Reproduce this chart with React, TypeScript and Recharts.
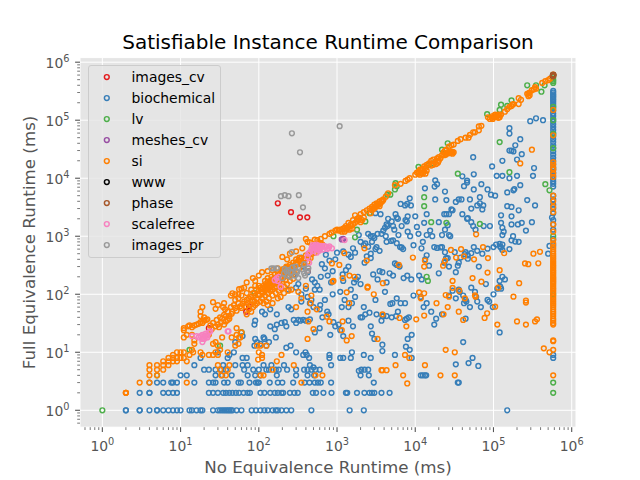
import React from "react";
import { ScatterChart, Scatter, XAxis, YAxis, CartesianGrid, Legend } from "recharts";

type Pt = [number, number];
const FONT = "'DejaVu Sans', sans-serif";
const title = "Satisfiable Instance Runtime Comparison";
const xTitle = "No Equivalence Runtime (ms)";
const yTitle = "Full Equivalence Runtime (ms)";

const xDomain = [0.518, 1135000];
const yDomain = [0.511, 1200000];
const majorTicks = [1, 10, 100, 1000, 10000, 100000, 1000000];
const xMinor = [0.6, 0.7, 0.8, 0.9, 2, 3, 4, 5, 6, 7, 8, 9, 20, 30, 40, 50, 60, 70, 80, 90, 200, 300, 400, 500, 600, 700, 800, 900, 2000, 3000, 4000, 5000, 6000, 7000, 8000, 9000, 20000, 30000, 40000, 50000, 60000, 70000, 80000, 90000, 200000, 300000, 400000, 500000, 600000, 700000, 800000, 900000];
const yMinor = xMinor;

const imagesCv: Pt[] = [[175, 3700], [258, 2600], [336, 2120], [417, 2120], [425, 250], [69, 50], [75, 62], [23, 26], [110, 110]];

const biochemicalRows: Pt[] = [
  [2, 1], [2, 1], [3, 1], [3, 1], [4, 1], [5, 1], [5, 1], [6, 1], [7, 1], [8, 1], [9, 1], [10, 1], [13, 1], [14, 1], [16, 1], [18, 1], [19, 1], [26, 1], [30, 1], [32, 1], [34, 1], [36, 1], [38, 1], [40, 1], [42, 1], [44, 1], [46, 1], [52, 1], [60, 1], [81, 1], [92, 1], [105, 1], [118, 1], [130, 1], [150, 1], [165, 1], [175, 1], [195, 1], [225, 1], [260, 1], [470, 1], [1450, 1], [2200, 1], [150000, 1],
  [3, 2], [4, 2], [4, 2], [6, 2], [7, 2], [8, 2], [9, 2], [23, 2], [26, 2], [30, 2], [35, 2], [38, 2], [42, 2], [46, 2], [51, 2], [56, 2], [64, 2], [72, 2], [77, 2], [105, 2], [118, 2], [140, 2], [160, 2], [175, 2], [195, 2], [205, 2], [250, 2], [285, 2], [315, 2], [490, 2], [540, 2], [670, 2], [850, 2], [1300, 2], [1350, 2], [1800, 2], [2240, 2], [2600, 2], [2800, 2], [3000, 2], [3700, 2], [4700, 2],
  [4, 3], [5, 3], [6, 3], [7.6, 3], [8, 3], [9, 3], [15, 3], [23, 3], [26, 3], [28, 3], [36, 3], [40, 3], [55, 3], [59, 3], [76, 3], [92, 3], [97, 3], [100, 3], [138, 3], [175, 3], [200, 3], [275, 3], [385, 3], [445, 3], [520, 3], [570, 3], [620, 3], [840, 3], [2950, 3], [35000, 3], [36000, 3],
  [10, 4], [12, 4], [28, 4], [34, 4], [45, 4], [72, 4], [90, 4], [105, 4], [170, 4], [300, 4], [420, 4], [510, 4], [11800, 4], [12500, 4], [13300, 4], [13800, 4], [1900, 4.8], [2000, 4], [2050, 5],
  [15, 6], [20, 5], [23, 5], [28, 5], [33, 5], [35, 6], [38, 5], [50, 6], [62, 6], [65, 5], [72, 6], [85, 5], [100, 5], [115, 6], [125, 5], [135, 5], [145, 6], [165, 5], [180, 5], [210, 6], [230, 5], [300, 5], [380, 5], [420, 5], [470, 5], [530, 5], [600, 5], [840, 6], [450, 6], [1100, 8], [1500, 8], [800, 8], [33000, 6.2], [48000, 6.5], [54000, 8], [64000, 5.8], [1550, 10], [1200, 8], [2200, 9], [2700, 8], [3800, 10.5], [5500, 9], [7600, 12.5], [8500, 11], [2250, 5], [2500, 5], [2550, 4], [9000, 8],
  [18, 8], [40, 8], [48, 10], [30, 10], [42, 9], [62, 8], [70, 8], [125, 13], [118, 17], [135, 15], [165, 18], [225, 12], [255, 13], [300, 10], [370, 9], [395, 10], [410, 9], [440, 8], [500, 5.5], [800, 9],
  [50, 15], [60, 22], [62, 19], [88, 13], [90, 17], [95, 15], [105, 14], [115, 18], [160, 25], [170, 30], [140, 28], [195, 32], [215, 33], [225, 28], [280, 36], [320, 36], [340, 35], [370, 36], [400, 35], [450, 37], [520, 22], [600, 26], [820, 20], [1100, 24], [1200, 19], [1400, 35], [1600, 28], [2100, 40], [2700, 28], [2800, 21], [3000, 17], [3200, 45], [3800, 13.5], [4300, 42], [5000, 40], [5700, 42], [6000, 50], [7400, 36], [9000, 20], [7800, 38],
  [41000, 15], [44000, 38], [42000, 70], [44000, 80], [45000, 75], [120000, 22], [84000, 80], [100000, 100], [8000, 17], [80000, 150], [58000, 110],
  [110, 50], [120, 45], [90, 35], [88, 30], [140, 55], [170, 45], [240, 60], [260, 55], [300, 32], [350, 75], [420, 90], [470, 80], [520, 120], [610, 65], [700, 80], [750, 50], [880, 100], [1150, 60], [1250, 80], [1400, 60], [1550, 70], [1700, 90], [2000, 40], [2200, 60], [2300, 45], [2600, 48], [3100, 80], [3800, 42], [3900, 42], [3700, 35], [4800, 68], [5100, 70], [5800, 85], [6500, 70], [7400, 70], [8300, 40], [9500, 95],
  [11700, 90], [12800, 60], [14000, 70], [16000, 50], [17500, 30], [18500, 38], [22000, 45], [27000, 95], [30000, 115], [33000, 85], [37000, 110], [41000, 95], [50000, 60], [52000, 130], [60000, 90], [62000, 75], [69000, 60], [88000, 75], [98000, 60], [112000, 125], [122000, 135], [125000, 125], [130000, 200], [140000, 180], [120000, 170],
  [1100, 110], [1180, 220], [1200, 170], [1300, 260], [1400, 300], [1500, 120], [1650, 160], [1750, 180], [1850, 200], [2000, 150], [2250, 350], [2400, 450], [2700, 420], [2900, 220], [3300, 180], [3500, 250], [3800, 240], [4100, 110], [4300, 160], [4700, 230], [5200, 210], [5500, 340], [5800, 320], [6300, 300], [7100, 190], [7900, 210], [8900, 180], [11200, 210], [12100, 180], [13400, 400], [14000, 470], [15000, 310], [20000, 230], [23500, 350], [27000, 300], [33000, 240], [35000, 310], [36000, 120], [47000, 410], [52000, 510], [56000, 650], [65000, 300], [72000, 500], [100000, 650], [130000, 580], [170000, 850], [210000, 800], [130000, 720],
  [350, 430], [370, 300], [420, 240], [480, 180], [520, 160], [560, 140], [600, 120], [620, 200], [640, 330], [700, 280], [720, 480], [760, 210], [800, 380], [840, 160], [880, 250], [950, 400], [1000, 520], [320, 150], [280, 220], [350, 100], [400, 125], [300, 130], [240, 120], [450, 70], [500, 60], [600, 55], [650, 40], [780, 45], [900, 33], [950, 28], [1050, 30],
  [1200, 550], [1400, 480], [1500, 440], [1600, 620], [1700, 520], [2200, 700], [2500, 660], [2700, 500], [2800, 800], [3000, 930], [3200, 650], [3300, 1100], [3500, 560], [4200, 1000], [4300, 800], [4900, 830], [5200, 850], [5400, 1300], [5800, 760], [6100, 1050], [6400, 650], [6700, 640], [7000, 600], [7800, 1800], [8000, 1200], [8600, 1000], [9500, 700], [10500, 1450], [11000, 1100], [12000, 620], [12500, 800], [14000, 1050], [16500, 1000], [17500, 650], [19000, 630], [21000, 640], [22000, 650], [24000, 530], [24800, 420], [26000, 420], [32000, 530], [36000, 350], [38000, 430], [43000, 490], [44000, 530], [47000, 470], [62000, 560], [84000, 610], [108000, 720], [120000, 740], [122000, 660], [125000, 640], [160000, 600], [190000, 810],
  [13300, 6700], [18000, 9200], [19000, 7900], [17700, 7200], [8500, 4500], [6500, 3600], [7400, 3400], [7900, 3600], [8800, 3400], [24000, 5900], [18000, 4300], [25000, 4200], [33000, 3900], [36000, 4300], [39000, 4300], [40000, 10800], [46000, 9100], [46000, 8400], [42000, 7300], [56000, 11700], [56000, 6400], [70000, 7900], [84000, 6400], [93000, 5200], [105000, 5000], [50000, 4300], [67000, 4700], [62000, 3400], [74000, 3400], [52000, 3000], [72000, 2900], [67000, 3700],
  [96000, 16000], [55000, 23000], [130000, 20000], [110000, 11000], [130000, 11000], [160000, 10000], [200000, 11000], [320000, 11000], [330000, 15000], [220000, 7600], [185000, 6500], [180000, 6200], [150000, 5700], [270000, 4200], [340000, 3400], [150000, 3300], [170000, 3200], [210000, 2800], [125000, 2300], [170000, 2200], [160000, 30000], [180000, 29000], [170000, 30000], [190000, 37000], [230000, 26000], [200000, 21000], [220000, 47000], [160000, 73000], [160000, 59000], [295000, 96000], [350000, 108000], [430000, 100000],
  [30000, 2800], [27000, 2400], [25000, 2400], [23500, 2400], [29000, 2900], [40000, 2400], [46000, 2000], [47000, 2050], [14000, 2400], [3600, 2400], [3100, 2500], [10000, 2200], [13000, 1700], [15500, 1250], [22000, 1050], [24000, 1300], [20000, 1750], [26000, 1550], [27000, 1050], [28000, 1000], [4500, 2000], [5000, 1800], [5200, 1500], [5600, 2400], [5800, 2100], [6000, 2000], [6700, 1500], [7500, 1900], [8000, 2200], [52000, 1750], [55000, 1500], [59000, 1300], [75000, 1500], [90000, 1500], [125000, 1700], [130000, 1400], [170000, 1600], [205000, 1600], [230000, 1700], [260000, 1250], [310000, 1750], [130000, 1050], [135000, 1200], [178000, 1000],
  [1900, 1050], [2000, 800], [2300, 750], [2500, 1100], [2700, 1000], [3900, 1250], [4100, 1400], [4300, 1600], [4400, 1500], [3700, 1100], [3100, 600], [2900, 1000],
];

const biochemicalColumn: Pt[] = [[580000, 320000], [580000, 300000], [580000, 280000], [580000, 265000], [580000, 250000], [580000, 235000], [580000, 220000], [580000, 205000], [580000, 190000], [580000, 175000], [580000, 160000], [580000, 145000], [580000, 130000], [580000, 118000], [580000, 105000], [580000, 95000], [580000, 85000], [580000, 76000], [580000, 68000], [580000, 60000], [580000, 53000], [580000, 47000], [580000, 42000], [580000, 37000], [580000, 33000], [580000, 29000], [580000, 25500], [580000, 22500], [580000, 20000], [580000, 17500], [580000, 15500], [580000, 14000], [580000, 12500], [580000, 11000], [580000, 9800], [580000, 8800], [580000, 8000], [580000, 7200], [580000, 5000], [580000, 4300], [580000, 3500], [580000, 3000], [580000, 2500], [560000, 2100], [580000, 1900], [580000, 1600], [580000, 1300], [580000, 900], [580000, 700], [520000, 680], [500000, 500], [580000, 8], [580000, 9]];

const lv: Pt[] = [[1, 1], [5, 4], [13, 11], [32, 13], [60, 22], [88, 105], [230, 290], [580000, 550000], [580000, 500000], [580000, 470000], [580000, 440000], [580000, 170000], [580000, 100000], [580000, 58000], [580000, 33000], [460000, 7900], [520000, 6200], [580000, 1000], [580000, 100], [580000, 3], [580000, 2], [14500, 170], [14000, 200], [270000, 400000], [350000, 400000], [450000, 400000], [410000, 310000], [125000, 185000], [170000, 220000], [120000, 150000], [150000, 177000], [83000, 127000], [26000, 40000], [22000, 31000], [11000, 15700], [15000, 17000], [17000, 18000], [5600, 8200], [5800, 7300], [5500, 6400], [4800, 5200], [4400, 5200], [2600, 2500], [2300, 1800], [1800, 1300], [1700, 960], [16000, 1750], [25000, 1700], [67000, 1630], [13000, 3300], [13000, 4700], [35000, 12000], [120000, 42000], [160000, 12700], [900, 1000]];

const meshesCv: Pt[] = [[1200, 900], [1150, 880], [600, 620]];

const siTop: Pt[] = [[580000, 610000], [530000, 520000], [500000, 490000], [460000, 470000], [420000, 440000], [350000, 350000], [340000, 370000], [330000, 340000], [310000, 330000], [290000, 300000], [280000, 290000], [270000, 285000], [225000, 225000], [210000, 240000], [210000, 190000], [180000, 190000], [175000, 185000], [170000, 175000], [160000, 170000], [150000, 155000], [140000, 140000], [120000, 122000], [115000, 125000], [110000, 120000], [105000, 115000], [100000, 112000], [98000, 118000], [95000, 110000], [90000, 105000], [85000, 112000], [70000, 80000], [65000, 67000], [65000, 78000], [58000, 62000], [55000, 62000], [50000, 56000], [48000, 50000], [44000, 50000], [38000, 47000], [35000, 44000], [31000, 38000], [29000, 37000], [27000, 35000], [25000, 31000], [24000, 30000], [23000, 28000], [22000, 25000], [20000, 23000], [19000, 22000], [17000, 21000], [16000, 20000], [15000, 18000], [14000, 17000], [13000, 16000], [13500, 15000], [12500, 14500], [12000, 14000], [11500, 14000], [11000, 13000], [10500, 12500], [10000, 11500], [8500, 10000], [8000, 9500], [7500, 9000], [6500, 8000], [5500, 7600], [4500, 5500], [4200, 4800], [3900, 4300], [3700, 4100], [3500, 4000], [3200, 3700], [3000, 3500], [2800, 3200], [2600, 3000], [2400, 2800], [2200, 2600], [2000, 2400], [1900, 2100], [1800, 2000], [1700, 2300], [1600, 1900], [1500, 1600], [1400, 1700], [1300, 1500], [1250, 1400], [1200, 1350], [1100, 1300], [1050, 1250], [1000, 1300], [950, 1250], [850, 1150], [800, 1100], [700, 1000], [620, 900], [560, 860]];

const siDense: Pt[] = [[27000, 28000], [26000, 27000], [25000, 26500], [24500, 25500], [23500, 25000], [28000, 27000], [29000, 28000], [30000, 28500], [31000, 28000], [30000, 26500], [14000, 13500], [13000, 13000], [12000, 12500], [11000, 12000], [11500, 11500], [12500, 12000], [13500, 12000], [20000, 20000], [21000, 22000], [19500, 18500], [18500, 17500], [18000, 19000], [17000, 17000], [16000, 16500], [3200, 3300], [3400, 3500], [3600, 3700], [3800, 4000], [3900, 4200], [3000, 3000], [2800, 2800], [2900, 3000], [3100, 3200], [3300, 3600], [3500, 3300], [2700, 2500], [1700, 1700], [1600, 1600], [1500, 1500], [1400, 1450], [1300, 1300], [1800, 1850], [1900, 1900], [1250, 1200], [1150, 1200], [1450, 1300], [1350, 1350], [1550, 1350], [2200, 2100], [2100, 1900], [2000, 1750], [98000, 105000], [110000, 115000], [120000, 112000], [125000, 125000], [105000, 125000], [115000, 110000], [280000, 260000], [290000, 270000], [600, 620], [650, 720], [550, 600], [500, 570], [480, 500], [430, 480], [430, 420], [400, 470], [380, 400], [370, 350], [350, 420], [340, 380], [320, 380], [310, 340], [300, 350], [290, 290], [280, 310], [270, 250], [260, 300], [250, 260], [240, 290], [230, 240], [220, 280], [215, 220], [210, 240], [205, 190], [200, 250], [195, 210], [190, 180], [185, 220], [180, 190], [175, 160], [170, 200], [165, 170], [160, 190], [155, 150], [150, 180], [148, 140], [145, 160], [140, 170], [138, 130], [135, 150], [130, 165], [128, 125], [125, 140], [122, 150], [120, 115], [118, 130], [115, 140], [112, 105], [110, 125], [108, 110], [105, 130], [102, 95], [100, 115], [98, 100], [95, 85], [92, 120], [90, 95], [88, 75], [85, 105], [82, 80], [80, 90], [78, 65], [75, 85], [72, 70], [70, 80], [68, 62], [65, 75], [62, 68], [60, 58], [58, 62], [55, 70], [52, 52], [50, 58], [48, 65], [46, 50], [44, 60], [42, 38], [40, 50], [38, 42], [36, 44], [34, 38], [32, 40], [30, 30], [29, 36], [28, 28], [26, 32], [25, 25], [24, 29], [23, 20], [36, 30], [38, 34], [40, 36], [42, 42], [45, 46], [33, 33], [31, 27],
  [110, 85], [120, 95], [130, 105], [140, 115], [150, 120], [160, 130], [170, 135], [185, 150], [200, 160], [220, 175], [240, 200], [260, 220], [280, 240], [300, 250], [330, 280], [125, 75], [135, 85], [150, 95], [165, 105], [180, 115], [195, 125], [210, 135], [230, 150], [250, 170], [275, 185], [120, 170], [130, 190], [145, 200], [160, 220], [175, 235], [190, 250], [205, 270], [225, 300], [250, 320], [275, 350], [300, 400], [330, 430], [100, 140], [90, 140], [80, 120], [70, 105], [60, 95], [55, 85], [50, 80], [95, 70], [85, 60], [75, 55], [105, 75], [115, 70], [130, 65], [150, 70], [175, 85], [190, 90], [210, 105], [240, 115], [90, 65], [80, 50], [70, 45], [350, 330], [380, 340], [420, 360], [460, 420], [520, 520], [560, 660], [600, 760], [640, 720]];

const siWing: Pt[] = [[11, 24], [11, 18], [12, 20], [11, 26], [12.5, 28], [13, 29], [14, 27], [15, 29], [16, 30], [17, 31], [18, 33], [19, 32], [20, 35], [21, 36], [22, 37], [14, 20], [15, 14], [15, 16], [18, 50], [18, 42], [19, 60], [20, 40], [26, 73], [28, 56], [30, 65], [36, 70], [35, 60], [37, 55], [46, 104], [44, 95], [56, 122], [50, 100], [55, 100], [60, 125], [65, 130], [70, 160], [84, 190], [90, 170], [100, 210], [110, 240], [130, 250], [150, 260], [175, 280], [200, 440], [230, 400], [250, 500], [300, 550], [360, 620], [400, 900], [420, 800], [450, 780], [520, 870], [620, 760],
  [5, 4], [4, 4], [4, 5], [5, 5], [6, 5], [6, 6], [7, 7], [8, 7], [9, 7], [7, 8], [8, 8], [9, 8], [10, 8], [8, 9], [9, 10], [10, 10], [11, 8], [11, 10], [7, 6], [5, 6], [4, 6], [6, 7], [3, 3], [2, 2], [2, 2], [12, 7], [14, 11], [14.5, 10], [13, 9], [19, 9], [23, 9], [26, 9], [18, 10], [28, 10], [30, 9], [32, 11], [26, 14], [28, 15], [30, 13], [34, 18], [40, 10], [42, 6], [40, 5], [38, 4], [30, 6], [32, 5], [33, 4], [12, 3], [4, 3], [2, 2],
  [52, 20], [56, 18], [52, 26], [45, 18], [58, 18], [55, 14], [60, 22], [50, 13], [95, 13], [105, 13], [100, 10], [110, 9], [125, 13], [110, 8], [98, 7.5], [105, 4], [115, 4], [150, 5], [170, 7], [195, 9], [280, 6], [350, 3], [530, 4], [650, 4], [300, 60], [260, 120], [320, 110], [350, 85], [400, 140], [470, 95], [420, 50], [460, 70], [430, 34], [500, 25], [420, 17], [550, 55],
  [1240, 510], [860, 340], [1070, 320], [2240, 620], [2400, 380], [6170, 320], [9330, 430], [13300, 380], [13000, 300], [22700, 310], [24000, 380], [28600, 580], [38500, 600], [33300, 430], [56400, 400], [42000, 450], [73500, 650], [85000, 420], [137000, 510], [60000, 1080], [253000, 340], [279000, 330], [374000, 342], [393000, 540], [324000, 500], [310000, 31000], [220000, 18000],
  [900, 170], [880, 165], [1180, 190], [1440, 210], [1670, 200], [1330, 108], [1430, 70], [3850, 155], [2470, 135], [2450, 130], [2950, 100], [3820, 45], [3300, 17], [1540, 19], [1330, 16], [1150, 24], [1180, 34], [800, 34], [740, 41], [6300, 39], [7700, 28], [10300, 37], [13000, 43], [23000, 45], [26000, 60], [18700, 70], [11800, 85], [11200, 108], [13000, 104], [24500, 97], [27000, 91], [36000, 50], [41000, 36], [83000, 47], [77000, 39], [105000, 61], [58000, 96], [59000, 91], [43000, 85], [36500, 115], [30000, 129], [30000, 170], [54000, 190], [70000, 165], [115000, 130], [213000, 155], [180000, 91], [260000, 78], [260000, 72], [200000, 34], [260000, 30], [340000, 34], [360000, 37], [112000, 30], [120000, 260], [84000, 236],
  [24500, 11], [32000, 10], [7400, 9], [8400, 8], [13300, 6], [5600, 6], [3800, 4.9], [4300, 4.9], [3700, 4.9], [7000, 4], [7900, 2.9], [21000, 4], [32000, 4], [440000, 11.7], [520000, 10], [580000, 16], [580000, 15.5]];

const siColumn: Pt[] = [[580000, 150000], [580000, 55000], [580000, 19000], [580000, 17000], [580000, 15000], [580000, 14000], [580000, 12000], [580000, 10500], [580000, 5000], [580000, 4000], [580000, 3200], [580000, 2600], [580000, 1600], [580000, 1200], [580000, 850], [580000, 750], [580000, 650], [580000, 600], [580000, 550], [580000, 500], [580000, 460], [580000, 430], [580000, 400], [580000, 370], [580000, 345], [580000, 320], [580000, 300], [580000, 280], [580000, 260], [580000, 245], [580000, 230], [580000, 215], [580000, 200], [580000, 190], [580000, 180], [580000, 170], [580000, 160], [580000, 150], [580000, 140], [580000, 130], [580000, 122], [580000, 114], [580000, 106], [580000, 95], [580000, 88], [580000, 82], [580000, 76], [580000, 70], [580000, 65], [580000, 60], [580000, 55], [580000, 50], [580000, 46], [580000, 42], [580000, 38], [580000, 35], [580000, 32], [580000, 30], [580000, 11], [580000, 4]];

const www: Pt[] = [[580000, 600000], [575000, 590000]];
const phase: Pt[] = [[580000, 610000], [585000, 600000], [575000, 590000], [580000, 570000]];
const scalefree: Pt[] = [[14, 19], [16, 19], [17, 18], [18, 19], [19, 17], [19, 15], [20, 17], [20, 19], [21, 21], [22, 20], [23, 22], [24, 23], [22, 18], [21, 18], [19, 20], [40, 23], [41, 23], [160, 175], [170, 190], [175, 170], [180, 200], [190, 135], [420, 440], [430, 500], [450, 530], [470, 600], [480, 650], [490, 700], [500, 560], [510, 620], [520, 680], [530, 660], [540, 600], [545, 720], [550, 520], [560, 680], [570, 600], [580, 640], [590, 560], [600, 650], [610, 620], [620, 620], [630, 680], [640, 650], [660, 590], [680, 680], [720, 660], [750, 600], [780, 630], [800, 670], [860, 620], [440, 350], [600, 680], [1250, 860]];
const imagesPr: Pt[] = [[265, 59500], [336, 28000], [1080, 79000], [192, 4900], [215, 5100], [240, 4900], [325, 5100], [367, 3150], [250, 850], [265, 530], [145, 280], [155, 280], [170, 280], [215, 270], [225, 250], [235, 210], [250, 200], [295, 300], [310, 240], [300, 250], [200, 190], [210, 230], [320, 190], [380, 230], [390, 210], [420, 250], [430, 280], [380, 330], [360, 270], [255, 240], [240, 260], [270, 290], [290, 210]];

const seriesList: { name: string; color: string; data: Pt[] }[] = [
  { name: "images_cv", color: "#E41A1C", data: imagesCv },
  { name: "biochemical", color: "#377EB8", data: [...biochemicalRows, ...biochemicalColumn] },
  { name: "lv", color: "#4DAF4A", data: lv },
  { name: "meshes_cv", color: "#984EA3", data: meshesCv },
  { name: "si", color: "#FF7F00", data: [...siTop, ...siDense, ...siWing, ...siColumn] },
  { name: "www", color: "#000000", data: www },
  { name: "phase", color: "#A65628", data: phase },
  { name: "scalefree", color: "#F781BF", data: scalefree },
  { name: "images_pr", color: "#999999", data: imagesPr },
];

const marker = (color: string) => (p: any) => (
  <circle cx={p.cx} cy={p.cy} r={2.4} fill="none" stroke={color} strokeWidth={1.45} />
);

const expOf = (v: number) => Math.round(Math.log10(v));
const isMajor = (v: number) => majorTicks.includes(v);

const XTick = (p: any) => {
  const v = p.payload.value;
  const major = isMajor(v);
  return (
    <g>
      <line x1={p.x} x2={p.x} y1={427.2} y2={427.2 + (major ? 4.9 : 2.8)} stroke="#555555" strokeWidth={major ? 1.1 : 0.8} />
      {major && (
        <text x={p.x} y={451} textAnchor="middle" fontFamily={FONT} fontSize={13.9} fill="#555555">
          10<tspan dy={-6} fontSize={9.8}>{expOf(v)}</tspan>
        </text>
      )}
    </g>
  );
};

const YTick = (p: any) => {
  const v = p.payload.value;
  const major = isMajor(v);
  return (
    <g>
      <line x1={80 - (major ? 4.9 : 2.8)} x2={80} y1={p.y} y2={p.y} stroke="#555555" strokeWidth={major ? 1.1 : 0.8} />
      {major && (
        <text x={69.5} y={p.y + 6} textAnchor="end" fontFamily={FONT} fontSize={13.9} fill="#555555">
          10<tspan dy={-6} fontSize={9.8}>{expOf(v)}</tspan>
        </text>
      )}
    </g>
  );
};

const LegendBox = () => (
  <div style={{ width: 133, height: 193, boxSizing: "border-box", background: "rgba(229,229,229,0.8)", border: "1px solid #CCCCCC", borderRadius: 3, fontFamily: FONT, fontSize: 13.9, color: "#000" }}>
    {seriesList.map((s) => (
      <div key={s.name} style={{ height: 21, display: "flex", alignItems: "center" }}>
        <svg width={43} height={21} style={{ flex: "none" }}>
          <circle cx={17.8} cy={11} r={2.4} fill="none" stroke={s.color} strokeWidth={1.45} />
        </svg>
        <span>{s.name}</span>
      </div>
    ))}
  </div>
);

export default function App() {
  return (
    <div style={{ position: "absolute", left: 0, top: 0, width: 640, height: 480 }}>
      <ScatterChart width={640} height={480} margin={{ top: 57.6, right: 64, bottom: 0, left: 0 }}>
        <text x={328} y={49} textAnchor="middle" fontFamily={FONT} fontSize={20} fill="#000">{title}</text>
        <CartesianGrid fill="#E5E5E5" stroke="#FFFFFF" strokeWidth={1} verticalValues={[...majorTicks, ...xDomain]} horizontalValues={[...majorTicks, ...yDomain]} />
        <XAxis
          type="number" dataKey="x" scale="log" domain={xDomain} allowDataOverflow ticks={[...majorTicks, ...xMinor]}
          interval={0} height={52.8} axisLine={false} tickLine={false} tick={<XTick />}
          label={{ value: xTitle, position: "insideBottom", offset: 7, fontFamily: FONT, fontSize: 16.7, fill: "#555555" }}
        />
        <YAxis
          type="number" dataKey="y" scale="log" domain={yDomain} allowDataOverflow ticks={[...majorTicks, ...yMinor]}
          interval={0} width={80} axisLine={false} tickLine={false} tick={<YTick />}
          label={{ value: yTitle, position: "insideLeft", angle: -90, offset: 29, fontFamily: FONT, fontSize: 16.7, fill: "#555555", style: { textAnchor: "middle" } }}
        />
        {seriesList.map((s) => (
          <Scatter key={s.name} name={s.name} data={s.data.map(([x, y]) => ({ x, y }))} shape={marker(s.color)} isAnimationActive={false} />
        ))}
        <Legend layout="vertical" align="center" verticalAlign="middle" content={<LegendBox />} wrapperStyle={{ left: 87.5, top: 65, width: 133, height: 193 }} />
      </ScatterChart>
    </div>
  );
}
